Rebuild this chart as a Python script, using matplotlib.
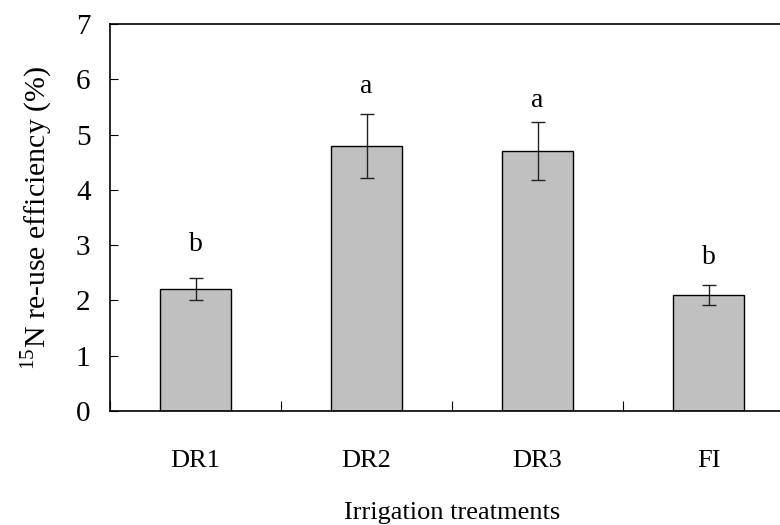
import matplotlib
matplotlib.use("Agg")
import matplotlib.pyplot as plt
import numpy as np

plt.rcParams['font.family'] = ['Liberation Serif', 'DejaVu Serif']
plt.rcParams['mathtext.fontset'] = 'custom'
plt.rcParams['mathtext.rm'] = 'Liberation Serif'

categories = ["DR1", "DR2", "DR3", "FI"]
means = [2.2, 4.8, 4.7, 2.1]
errors = [0.2, 0.58, 0.52, 0.18]
letters = ["b", "a", "a", "b"]
letter_y = [2.9, 5.75, 5.5, 2.65]
y_ticks = [0, 1, 2, 3, 4, 5, 6, 7]

fig = plt.figure(figsize=(7.8, 5.25), dpi=100)
ax = fig.add_axes([110/780, (525-411)/525, 684/780, 387/525])

x = np.arange(len(categories))
ax.bar(x, means, width=0.41, color='#c0c0c0', edgecolor='black', linewidth=1.0, zorder=2)
ax.errorbar(x, means, yerr=errors, fmt='none', ecolor='#222222', elinewidth=1.0,
            capsize=4.7, capthick=1.0, zorder=3)
for xi, t, yy in zip(x, letters, letter_y):
    ax.text(xi, yy, t, ha='center', va='baseline', fontsize=20)

ax.set_xlim(-0.5, len(categories) - 0.5)
ax.set_ylim(0, 7)
ax.set_yticks(y_ticks)
ax.set_xticks(x)
ax.set_xticklabels(categories)
ax.set_xticks(np.arange(len(categories) + 1) - 0.5, minor=True)

ax.tick_params(axis='y', direction='in', length=6, width=0.8, labelsize=21, pad=14)
ax.tick_params(axis='x', which='major', length=0, labelsize=19, pad=28)
ax.tick_params(axis='x', which='minor', direction='in', length=7, width=0.8)

for s in ax.spines.values():
    s.set_linewidth(1.2)

ax.set_ylabel(r'$^{15}$N re-use efficiency (%)', fontsize=21.5, labelpad=15)
ax.set_xlabel('Irrigation treatments', fontsize=19, labelpad=21.5)

fig.savefig('out.png', dpi=100)
